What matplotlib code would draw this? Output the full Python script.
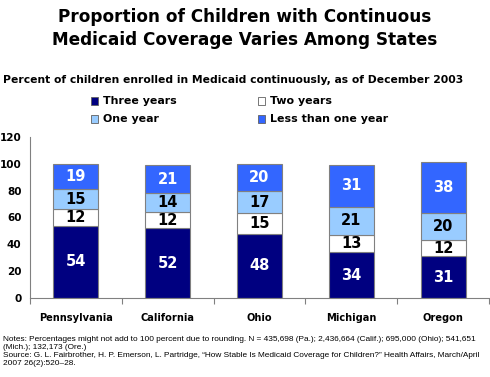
import matplotlib.pyplot as plt
from matplotlib.patches import Rectangle

states = ['Pennsylvania', 'California', 'Ohio', 'Michigan', 'Oregon']
three_years = [54, 52, 48, 34, 31]
two_years = [12, 12, 15, 13, 12]
one_year = [15, 14, 17, 21, 20]
less_than_one = [19, 21, 20, 31, 38]

series = [three_years, two_years, one_year, less_than_one]
names = ['Three years', 'Two years', 'One year', 'Less than one year']
colors = ['#000080', '#FFFFFF', '#99CCFF', '#3366FF']
text_colors = ['white', 'black', 'black', 'white']

plt.rcParams['font.family'] = ['DejaVu Sans']
bold = dict(fontweight='bold', family='DejaVu Sans')

fig = plt.figure(figsize=(4.9, 3.77), dpi=100)
ax = fig.add_axes([0.061, 0.2096, 0.937, 0.427])

x = range(len(states))
bottom = [0] * len(states)
for vals, col, tc in zip(series, colors, text_colors):
    ax.bar(x, vals, bottom=bottom, width=0.49, color=col, edgecolor='#808080', linewidth=0.8)
    for i, v in enumerate(vals):
        ax.text(i, bottom[i] + v / 2, str(v), ha='center', va='center',
                color=tc, fontsize=10.5, **bold)
    bottom = [b + v for b, v in zip(bottom, vals)]

ax.set_xlim(-0.5, len(states) - 0.5)
ax.set_ylim(0, 120)
ax.set_yticks(range(0, 121, 20))
ax.set_xticks([i - 0.5 for i in range(len(states) + 1)])
ax.set_xticklabels([])
ax.tick_params(axis='x', length=4, color='#808080', direction='out')
ax.tick_params(axis='y', length=0, labelsize=7.5, pad=6)
for lab in ax.get_yticklabels():
    lab.set_fontweight('bold')
for sp in ['top', 'right']:
    ax.spines[sp].set_visible(False)
ax.spines['left'].set_color('#808080')
ax.spines['bottom'].set_color('#808080')

for i, s in enumerate(states):
    ax.text(i, -15, s, ha='center', va='center', fontsize=7.1, **bold)

fig.text(0.5, 0.924, 'Proportion of Children with Continuous\nMedicaid Coverage Varies Among States',
         ha='center', va='center', fontsize=12.2, linespacing=1.35, **bold)
fig.text(0.006, 0.787, 'Percent of children enrolled in Medicaid continuously, as of December 2003',
         ha='left', va='center', fontsize=7.75, **bold)

leg_pos = [(0.186, 0.732), (0.527, 0.732), (0.186, 0.685), (0.527, 0.685)]
for (lx, ly), name, col in zip(leg_pos, names, colors):
    fig.add_artist(Rectangle((lx, ly - 0.011), 0.014, 0.022, transform=fig.transFigure,
                             facecolor=col, edgecolor='#606060', linewidth=0.6))
    fig.text(lx + 0.024, ly, name, ha='left', va='center', fontsize=7.9, **bold)

notes = ('Notes: Percentages might not add to 100 percent due to rounding. N = 435,698 (Pa.); '
         '2,436,664 (Calif.); 695,000 (Ohio); 541,651\n(Mich.); 132,173 (Ore.)\n'
         'Source: G. L. Fairbrother, H. P. Emerson, L. Partridge, \u201cHow Stable Is Medicaid '
         'Coverage for Children?\u201d Health Affairs, March/April\n2007 26(2):520\u201328.')
fig.text(0.006, 0.11, notes, ha='left', va='top', fontsize=5.97, linespacing=1.2,
         family='Liberation Sans')

fig.savefig('out.png', dpi=100)
